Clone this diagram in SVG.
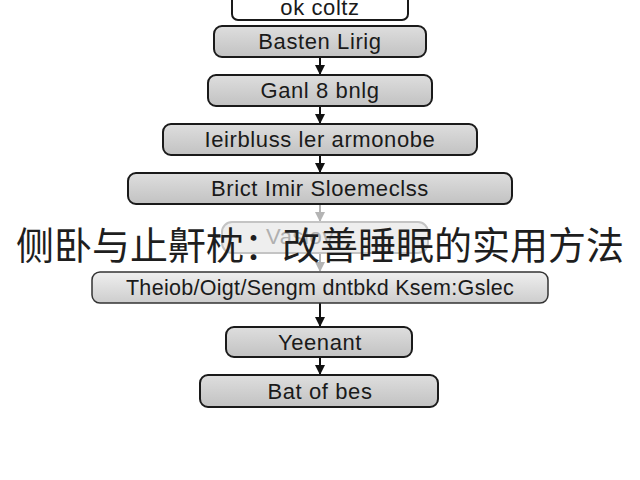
<svg xmlns="http://www.w3.org/2000/svg" width="640" height="480" viewBox="0 0 640 480">
<defs>
<linearGradient id="g" x1="0" y1="0" x2="0" y2="1">
<stop offset="0" stop-color="#dedede"/>
<stop offset="1" stop-color="#c2c2c2"/>
</linearGradient>
<linearGradient id="gl" x1="0" y1="0" x2="0" y2="1">
<stop offset="0" stop-color="#efefef"/>
<stop offset="1" stop-color="#cdcdcd"/>
</linearGradient>
<marker id="ah" viewBox="0 0 10 10" refX="9" refY="5" markerWidth="5" markerHeight="5" orient="auto">
<path d="M0,0 L10,5 L0,10 z" fill="#111"/>
</marker>
<marker id="ahf" viewBox="0 0 10 10" refX="9" refY="5" markerWidth="5" markerHeight="5" orient="auto">
<path d="M0,0 L10,5 L0,10 z" fill="#b4b4b4"/>
</marker>
</defs>
<style>
.box{fill:url(#g);stroke:#1a1a1a;stroke-width:2}
.lbl{font-family:"Liberation Sans",Arial,sans-serif;font-size:22px;letter-spacing:0.6px;fill:#1a1a1a;text-anchor:middle}
.c{stroke:#111;stroke-width:2;fill:none;marker-end:url(#ah)}
.cf{stroke:#b4b4b4;stroke-width:2;fill:none;marker-end:url(#ahf)}
</style>
<rect width="640" height="480" fill="#ffffff"/>
<g id="connectors">
<line class="c" x1="320" y1="57" x2="320" y2="74"/>
<line class="c" x1="320" y1="106" x2="320" y2="123"/>
<line class="c" x1="320" y1="155" x2="320" y2="172"/>
<line class="cf" x1="320" y1="204" x2="320" y2="221"/>
<line class="cf" x1="320" y1="253" x2="320" y2="271"/>
<line class="c" x1="320" y1="303" x2="320" y2="326"/>
<line class="c" x1="320" y1="357" x2="320" y2="374"/>
</g>
<g id="n0">
<rect x="232" y="-8" width="176" height="28" rx="6" fill="#ffffff" stroke="#1a1a1a" stroke-width="2"/>
<text class="lbl" x="320" y="15">ok coltz</text>
</g>
<g id="n1">
<rect class="box" x="214" y="26" width="212" height="31" rx="8"/>
<text class="lbl" x="320" y="49">Basten Lirig</text>
</g>
<g id="n2">
<rect class="box" x="208" y="75" width="224" height="31" rx="8"/>
<text class="lbl" x="320" y="98">Ganl 8 bnlg</text>
</g>
<g id="n3">
<rect class="box" x="163" y="124" width="314" height="31" rx="8"/>
<text class="lbl" x="320" y="147">Ieirbluss ler armonobe</text>
</g>
<g id="n4">
<rect class="box" x="128" y="173" width="384" height="31" rx="8"/>
<text class="lbl" x="320" y="196">Brict Imir Sloemeclss</text>
</g>
<g id="n5">
<rect x="222" y="222" width="206" height="31" rx="10" fill="#eeeeee" stroke="#c4c4c4" stroke-width="2"/>
<text class="lbl" x="300" y="244" style="fill:#b0b0b0">Vaslov</text>
</g>
<g id="n6">
<rect x="92" y="272" width="456" height="31" rx="8" fill="url(#gl)" stroke="#333" stroke-width="1.5"/>
<text class="lbl" x="320" y="295" style="font-size:21.5px;letter-spacing:0.3px">Theiob/Oigt/Sengm dntbkd Ksem:Gslec</text>
</g>
<g id="n7">
<rect class="box" x="226" y="327" width="186" height="30" rx="8"/>
<text class="lbl" x="320" y="350">Yeenant</text>
</g>
<g id="n8">
<rect class="box" x="200" y="375" width="238" height="32" rx="8"/>
<text class="lbl" x="320" y="399">Bat of bes</text>
</g>
<g id="title">
<text x="320" y="259" font-family="'Noto Sans CJK SC','Noto Sans',sans-serif" font-size="38" fill="#1e1e1e" text-anchor="middle">侧卧与止鼾枕：改善睡眠的实用方法</text>
</g>
</svg>
